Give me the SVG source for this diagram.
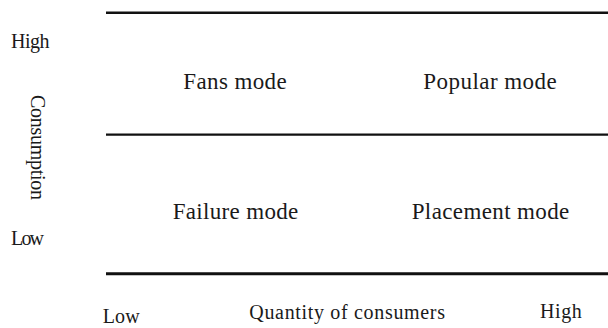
<svg xmlns="http://www.w3.org/2000/svg" width="608" height="328" viewBox="0 0 608 328">
<style>
text{font-family:"Liberation Serif","Times New Roman",serif;fill:#1a1a1a}
.m{font-size:23px}
.a{font-size:20px}
.ln{stroke:#111;fill:none}
</style>
<rect width="608" height="328" fill="#fff"/>
<g id="connectors">
<line class="ln" x1="106" y1="12.8" x2="608" y2="12.8" stroke-width="2.6"/>
<line class="ln" x1="106" y1="134.6" x2="608" y2="134.6" stroke-width="2.4"/>
<line class="ln" x1="106" y1="273.8" x2="608" y2="273.8" stroke-width="3"/>
</g>
<g id="y-axis">
<text class="a" x="11" y="48" textLength="38.5">High</text>
<text class="a" x="11" y="245" textLength="33">Low</text>
<text class="a" transform="translate(30.5,95) rotate(90)" x="0" y="0" textLength="105">Consumption</text>
</g>
<g id="fans"><text class="m" x="183.3" y="89" textLength="103.4">Fans mode</text></g>
<g id="popular"><text class="m" x="423.3" y="89" textLength="133.4">Popular mode</text></g>
<g id="failure"><text class="m" x="172.7" y="219" textLength="125.6">Failure mode</text></g>
<g id="placement"><text class="m" x="411.7" y="219" textLength="157.6">Placement mode</text></g>
<g id="x-axis">
<text class="a" x="102.7" y="323" textLength="37">Low</text>
<text class="a" x="249.3" y="319" textLength="195.7">Quantity of consumers</text>
<text class="a" x="540" y="318" textLength="41.7">High</text>
</g>
</svg>
